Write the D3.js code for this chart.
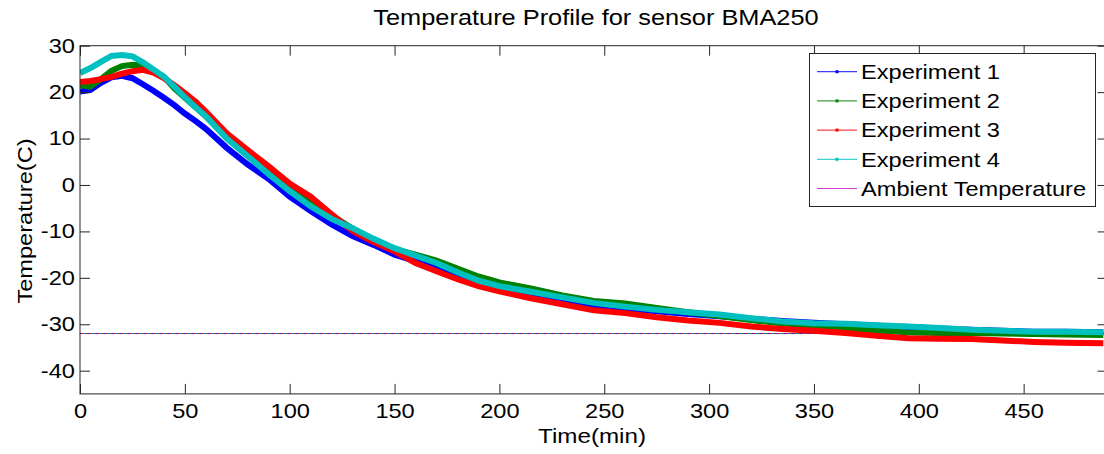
<!DOCTYPE html>
<html>
<head>
<meta charset="utf-8">
<script src="https://cdn.jsdelivr.net/npm/d3@7"></script>
<style>
  html, body { margin: 0; padding: 0; background: #fff; }
  svg { display: block; }
  text { font-family: "Liberation Sans", Arial, sans-serif; fill: #000; }
</style>
</head>
<body>
<svg id="chart" width="1104" height="454"></svg>
<script>
// ---- data ----
const time = [0,5,10,15,20,25,30,35,40,45,50,55,60,70,80,90,100,110,120,130,140,150,160,170,180,190,200,215,230,245,260,275,290,305,320,335,350,365,380,395,410,425,440,455,470,488];
const exp1 = [20.1,20.5,22.0,23.2,23.5,23.0,21.7,20.3,18.8,17.2,15.4,13.8,12.1,8.0,4.4,1.3,-2.5,-5.6,-8.5,-11.0,-12.9,-15.0,-16.4,-17.8,-19.5,-21.0,-22.2,-23.7,-24.9,-25.8,-26.6,-27.2,-27.8,-28.3,-28.8,-29.3,-29.7,-30.0,-30.3,-30.6,-30.9,-31.2,-31.4,-31.6,-31.6,-31.7];
const exp2 = [21.5,21.2,22.8,24.6,25.6,25.9,25.7,24.7,23.3,20.8,18.8,16.8,14.8,10.4,6.8,3.0,-0.5,-3.6,-6.6,-9.4,-11.7,-13.8,-15.0,-16.3,-18.0,-19.7,-21.0,-22.3,-23.8,-25.0,-25.5,-26.5,-27.4,-28.2,-29.1,-29.8,-30.4,-30.9,-31.3,-31.8,-31.9,-31.9,-32.0,-32.1,-32.2,-32.3];
const exp3 = [22.2,22.4,22.8,23.3,24.0,24.5,24.8,24.2,23.0,21.5,19.8,18.0,15.8,11.1,7.5,4.0,0.3,-2.5,-6.3,-9.9,-12.3,-14.3,-16.8,-18.6,-20.3,-21.8,-22.9,-24.4,-25.7,-27.0,-27.6,-28.5,-29.2,-29.7,-30.5,-31.0,-31.4,-31.9,-32.5,-33.0,-33.1,-33.2,-33.5,-33.8,-34.0,-34.1];
const exp4 = [24.1,25.2,26.5,27.8,28.0,27.7,26.4,24.9,23.3,21.2,18.9,16.8,14.8,10.0,6.2,2.3,-1.3,-4.6,-7.3,-9.3,-11.6,-13.6,-15.2,-16.8,-18.8,-20.6,-21.8,-23.0,-24.2,-25.4,-26.2,-26.9,-27.4,-27.9,-28.7,-29.4,-29.8,-29.9,-30.2,-30.5,-30.8,-31.2,-31.4,-31.6,-31.6,-31.7];
const ambient = -32;
const seriesNames = ["Experiment 1","Experiment 2","Experiment 3","Experiment 4"];
const legendNames = ["Experiment 1","Experiment 2","Experiment 3","Experiment 4","Ambient Temperature"];
const xTicks = [0,50,100,150,200,250,300,350,400,450];
const yTicks = [-40,-30,-20,-10,0,10,20,30];
const xDomain = [0, 490];
const yDomain = [-45, 30];
const titleText = "Temperature Profile for sensor BMA250";
const xLabel = "Time(min)";
const yLabel = "Temperature(C)";

// ---- styles ----
const colors = ["#0000ff", "#008000", "#ff0000", "#00bfbf"];
const ambientColor = "#bf00bf";
const SX = 1.18; // horizontal text stretch seen in the reference

const svg = d3.select("#chart");
const pLeft = 80, pTop = 45.7, pBottom = 393.9;
const pRight = pLeft + (xDomain[1] - xDomain[0]) * 2.097;

const x = d3.scaleLinear().domain(xDomain).range([pLeft, pRight]);
const y = d3.scaleLinear().domain(yDomain).range([pBottom, pTop]);

svg.append("defs").append("clipPath").attr("id", "clip")
  .append("rect").attr("x", pLeft).attr("y", pTop).attr("width", pRight - pLeft).attr("height", pBottom - pTop);

const plot = svg.append("g").attr("clip-path", "url(#clip)");

// ambient line: several overlapping coloured dotted lines
plot.append("line").attr("x1", x(xDomain[0])).attr("x2", x(xDomain[1]))
  .attr("y1", y(ambient)).attr("y2", y(ambient))
  .attr("stroke", ambientColor).attr("stroke-width", 1);
const dashCols = ["#0000ff", "#ff0000", "#00bfbf", "#008000"];
dashCols.forEach((c, i) => {
  plot.append("line").attr("x1", x(xDomain[0])).attr("x2", x(xDomain[1]))
    .attr("y1", y(ambient)).attr("y2", y(ambient))
    .attr("stroke", c).attr("stroke-width", 1).attr("opacity", 0.8)
    .attr("stroke-dasharray", "1,7").attr("stroke-dashoffset", -2 * i);
});

const allSeries = [exp1, exp2, exp3, exp4];
const line = d3.line().x(d => x(d[0])).y(d => y(d[1]));
allSeries.forEach((vals, i) => {
  const pts = time.map((t, k) => [t, vals[k]]);
  plot.append("path").datum(pts)
    .attr("d", line)
    .attr("fill", "none")
    .attr("stroke", colors[i])
    .attr("stroke-width", 6)
    .attr("stroke-linejoin", "miter");
});

// ---- axes ----
const axisColor = "#262626";
const fmt = d => String(d); // plain hyphen-minus as in the reference
function styleAxis(g) {
  g.select(".domain").remove();
  g.selectAll(".tick line").attr("stroke", axisColor);
  g.selectAll("text").style("font-size", "20px").attr("fill", "#000")
   .style("font-family", '"Liberation Sans", Arial, sans-serif');
}
const gx = svg.append("g").attr("transform", `translate(0,${pBottom})`)
  .call(d3.axisBottom(x).tickValues(xTicks).tickSize(-10).tickPadding(9.5).tickFormat(fmt))
  .call(styleAxis);
gx.selectAll("text").attr("transform", `scale(${SX},1)`);

const gy = svg.append("g").attr("transform", `translate(${pLeft},0)`)
  .call(d3.axisLeft(y).tickValues(yTicks).tickSize(-10).tickPadding(4.3).tickFormat(fmt))
  .call(styleAxis);
gy.selectAll("text").attr("transform", `scale(${SX},1)`);

svg.append("g").attr("transform", `translate(0,${pTop})`)
  .call(d3.axisTop(x).tickValues(xTicks).tickSize(-10).tickFormat(""))
  .call(styleAxis);
svg.append("g").attr("transform", `translate(${pRight},0)`)
  .call(d3.axisRight(y).tickValues(yTicks).tickSize(-10).tickFormat(""))
  .call(styleAxis);

svg.append("rect").attr("x", pLeft).attr("y", pTop)
  .attr("width", pRight - pLeft).attr("height", pBottom - pTop)
  .attr("fill", "none").attr("stroke", axisColor).attr("stroke-width", 1);

// ---- titles ----
svg.append("text").attr("transform", `translate(596,25) scale(${SX},1)`)
  .attr("text-anchor", "middle").style("font-size", "21.5px").text(titleText);
svg.append("text").attr("transform", `translate(592,443) scale(${SX},1)`)
  .attr("text-anchor", "middle").style("font-size", "20.5px").text(xLabel);
svg.append("text").attr("transform", `translate(31.5,221) rotate(-90) scale(${SX},1)`)
  .attr("text-anchor", "middle").style("font-size", "20px").text(yLabel);

// ---- legend ----
const lg = svg.append("g");
lg.append("rect").attr("x", 809.5).attr("y", 53.5).attr("width", 286).attr("height", 153)
  .attr("fill", "#fff").attr("stroke", axisColor).attr("stroke-width", 1);
const legendColors = colors.concat([ambientColor]);
legendNames.forEach((name, i) => {
  const cy = 71.7 + i * 29.2;
  lg.append("line").attr("x1", 817).attr("x2", 857).attr("y1", cy).attr("y2", cy)
    .attr("stroke", legendColors[i]).attr("stroke-width", 1.2).attr("opacity", 0.75);
  if (i < 4) {
    lg.append("rect").attr("x", 835.5).attr("y", cy - 1.5).attr("width", 3).attr("height", 3)
      .attr("fill", legendColors[i]);
  }
  lg.append("text").attr("transform", `translate(861,${cy + 7.2}) scale(${SX},1)`)
    .style("font-size", "20px").text(name);
});
</script>
</body>
</html>
